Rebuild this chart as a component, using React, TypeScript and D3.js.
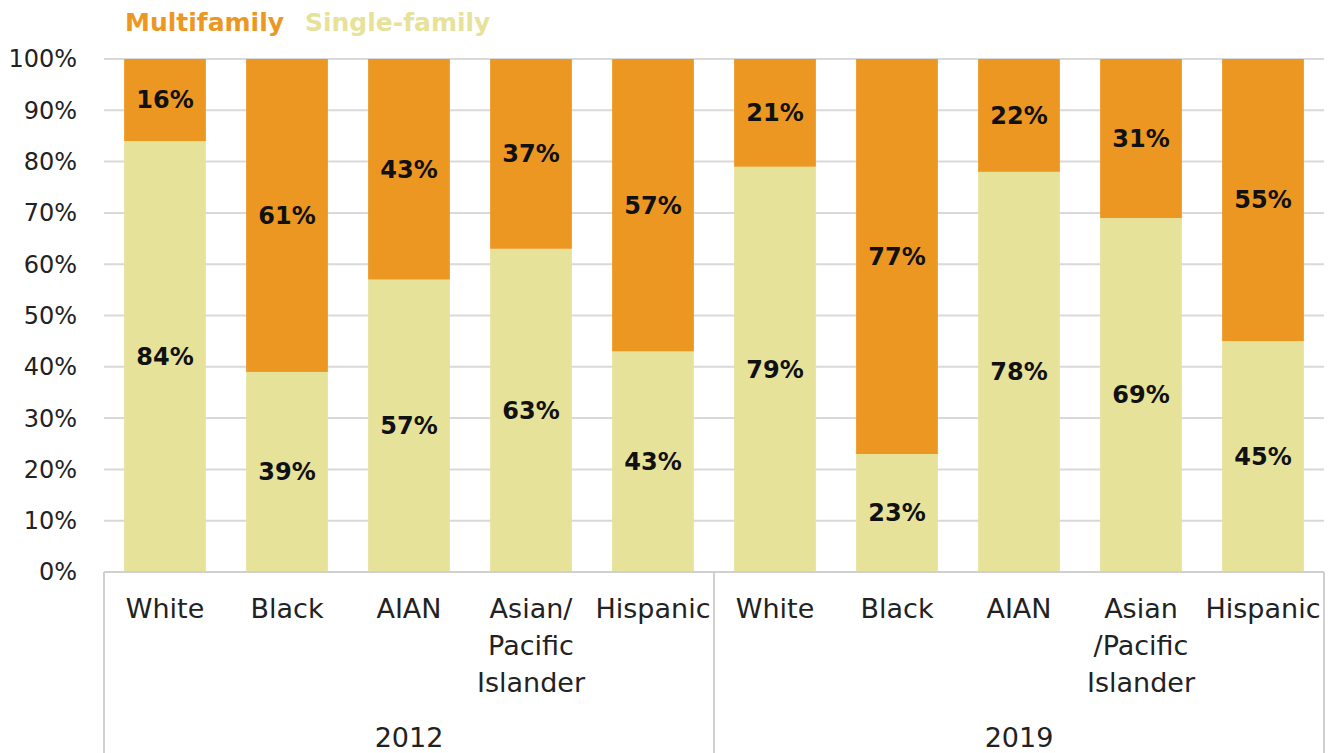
import React from "react";
import * as d3 from "d3";

const years = ["2012", "2019"];
const groups = ["White", "Black", "AIAN", "Asian/Pacific Islander", "Hispanic"];
const categoryLines2012 = [["White"], ["Black"], ["AIAN"], ["Asian/", "Pacific", "Islander"], ["Hispanic"]];
const categoryLines2019 = [["White"], ["Black"], ["AIAN"], ["Asian", "/Pacific", "Islander"], ["Hispanic"]];
const singleFamily2012 = [84, 39, 57, 63, 43];
const multiFamily2012 = [16, 61, 43, 37, 57];
const singleFamily2019 = [79, 23, 78, 69, 45];
const multiFamily2019 = [21, 77, 22, 31, 55];
const yTicks = [0, 10, 20, 30, 40, 50, 60, 70, 80, 90, 100];

const ORANGE = "#EC9722";
const PALE = "#E6E29A";
const FONT = "'DejaVu Sans', 'Noto Sans', sans-serif";

export default function App() {
  const W = 1328, H = 753;
  const left = 104, right = 1324, top = 59, bottom = 572;
  const keys = years.flatMap((y) => groups.map((g) => `${y}|${g}`));
  const x = d3.scaleBand<string>().domain(keys).range([left, right]).paddingInner(0.33).paddingOuter(0.165);
  const y = d3.scaleLinear().domain([0, 100]).range([bottom, top]);
  const rows = years.flatMap((yr, yi) =>
    groups.map((g, i) => ({
      key: `${yr}|${g}`,
      single: yi === 0 ? singleFamily2012[i] : singleFamily2019[i],
      multi: yi === 0 ? multiFamily2012[i] : multiFamily2019[i],
      lines: yi === 0 ? categoryLines2012[i] : categoryLines2019[i],
    }))
  );
  const stack = d3.stack<any>().keys(["single", "multi"]);
  const series = stack(rows);
  const colors: Record<string, string> = { single: PALE, multi: ORANGE };
  const groupWidth = (right - left) / years.length;

  return (
    <svg width={W} height={H} style={{ position: "absolute", left: 0, top: 0, background: "#fff" }} fontFamily={FONT}>
      {/* legend */}
      <text x={125} y={31} fontSize={25} fontWeight="bold" fill={ORANGE}>Multifamily</text>
      <text x={305} y={31} fontSize={25} fontWeight="bold" fill={PALE}>Single-family</text>
      {/* gridlines */}
      {yTicks.map((t) => (
        <line key={t} x1={left} x2={right} y1={y(t)} y2={y(t)} stroke="#D9D9D9" strokeWidth={2} />
      ))}
      {yTicks.map((t) => (
        <text key={"l" + t} x={77} y={y(t)} dy="0.35em" textAnchor="end" fontSize={24} fill="#222">{t}%</text>
      ))}
      {/* bars */}
      {series.map((s) => (
        <g key={s.key}>
          {s.map((d, i) => {
            const r = rows[i];
            const x0 = x(r.key)!;
            return (
              <g key={r.key}>
                <rect x={x0} width={x.bandwidth()} y={y(d[1])} height={y(d[0]) - y(d[1])} fill={colors[s.key]} />
                <text x={x0 + x.bandwidth() / 2} y={(y(d[0]) + y(d[1])) / 2} dy="0.35em" textAnchor="middle" fontSize={24} fontWeight="bold" fill="#111">
                  {(r as any)[s.key]}%
                </text>
              </g>
            );
          })}
        </g>
      ))}
      {/* axis frame */}
      <line x1={left} x2={right} y1={bottom} y2={bottom} stroke="#D0D0D0" strokeWidth={2} />
      {years.map((yr, yi) => (
        <line key={"sep" + yi} x1={left + yi * groupWidth} x2={left + yi * groupWidth} y1={bottom} y2={H} stroke="#D0D0D0" strokeWidth={2} />
      ))}
      <line x1={right} x2={right} y1={bottom} y2={H} stroke="#D0D0D0" strokeWidth={2} />
      {/* category labels */}
      {rows.map((r) => (
        <text key={"c" + r.key} x={x(r.key)! + x.bandwidth() / 2} y={609} textAnchor="middle" fontSize={27} fill="#222">
          {r.lines.map((ln, li) => (
            <tspan key={li} x={x(r.key)! + x.bandwidth() / 2} y={609 + li * 37} dy="0.35em">{ln}</tspan>
          ))}
        </text>
      ))}
      {years.map((yr, yi) => (
        <text key={"y" + yr} x={left + yi * groupWidth + groupWidth / 2} y={738} dy="0.35em" textAnchor="middle" fontSize={27} fill="#222">{yr}</text>
      ))}
    </svg>
  );
}
